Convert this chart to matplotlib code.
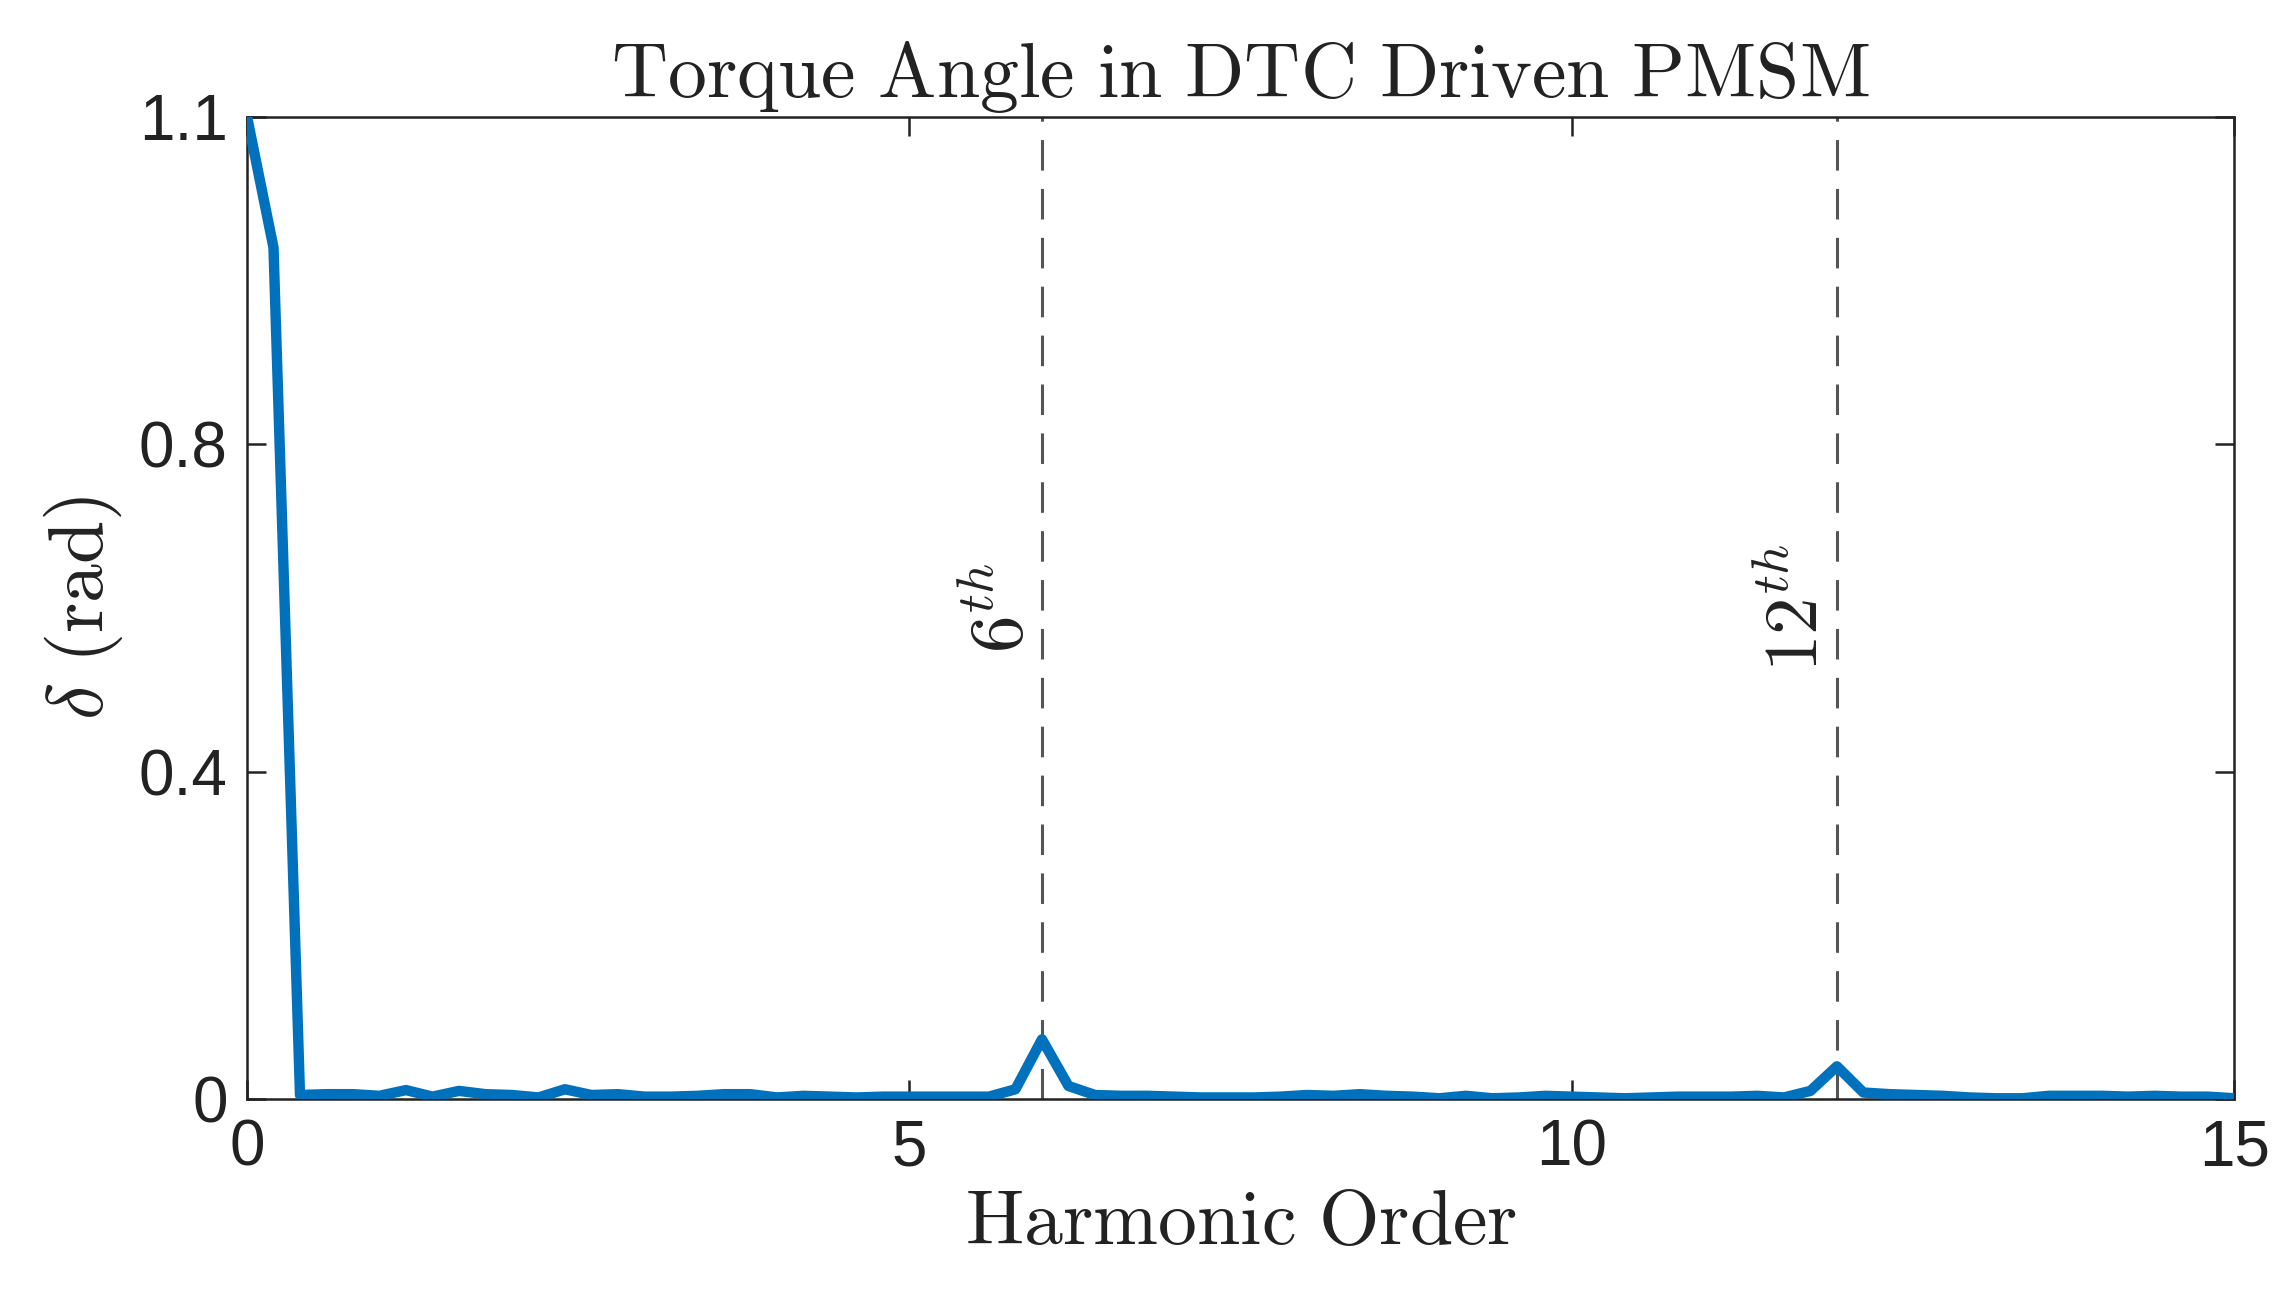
import matplotlib
matplotlib.use("Agg")
import matplotlib.pyplot as plt
import numpy as np

plt.rcParams['mathtext.fontset'] = 'cm'

harmonic = [round(i*0.2, 1) for i in range(76)]
delta = [1.20, 1.04, 0.005, 0.006, 0.006, 0.004, 0.011, 0.003, 0.010, 0.006,
         0.005, 0.002, 0.012, 0.005, 0.006, 0.003, 0.003, 0.004, 0.006, 0.006,
         0.002, 0.004, 0.003, 0.002, 0.003, 0.003, 0.003, 0.003, 0.003, 0.012,
         0.073, 0.016, 0.005, 0.004, 0.004, 0.003, 0.002, 0.002, 0.002, 0.003,
         0.005, 0.004, 0.006, 0.004, 0.003, 0.001, 0.004, 0.001, 0.002, 0.004,
         0.003, 0.002, 0.001, 0.002, 0.003, 0.003, 0.003, 0.004, 0.002, 0.010,
         0.040, 0.008, 0.006, 0.005, 0.004, 0.002, 0.001, 0.001, 0.004, 0.004,
         0.004, 0.003, 0.004, 0.003, 0.003, 0.001]
marks = [6, 12]
mark_labels = [r'$6^{th}$', r'$12^{th}$']
yticks = [0, 0.4, 0.8, 1.2]
ytick_labels = ['0', '0.4', '0.8', '1.1']
xticks = [0, 5, 10, 15]

fig = plt.figure(figsize=(22.87, 13.10), dpi=100)
ax = fig.add_axes([0.108, 0.161, 0.869, 0.75])
for m, lab in zip(marks, mark_labels):
    ax.axvline(m, color='#555555', ls=(0, (10, 6)), lw=2.2, zorder=1)
    ax.text(m - 0.02, 0.6, lab, rotation=90, ha='right', va='center', fontsize=54, color='#222222')
ax.plot(harmonic, delta, color='#0072BD', lw=7.5, zorder=3)
ax.set_xlim(0, 15)
ax.set_ylim(0, 1.2)
ax.set_xticks(xticks)
ax.set_yticks(yticks)
ax.set_yticklabels(ytick_labels)
ax.tick_params(direction='in', length=14, width=1.8, top=True, right=True, labelsize=46, pad=14, colors='#222222')
for lbl in ax.get_xticklabels() + ax.get_yticklabels():
    lbl.set_family('Liberation Sans')
for s in ax.spines.values():
    s.set_linewidth(1.8)
    s.set_color('#222222')
ax.set_title(r'$\mathrm{Torque\ Angle\ in\ DTC\ Driven\ PMSM}$', fontsize=56, pad=14, color='#222222')
ax.set_xlabel(r'$\mathrm{Harmonic\ Order}$', fontsize=56, color='#222222', labelpad=4)
ax.set_ylabel(r'$\delta\ \mathrm{(rad)}$', fontsize=56, color='#222222', labelpad=10)
fig.savefig('out.png', dpi=100, facecolor='white')
